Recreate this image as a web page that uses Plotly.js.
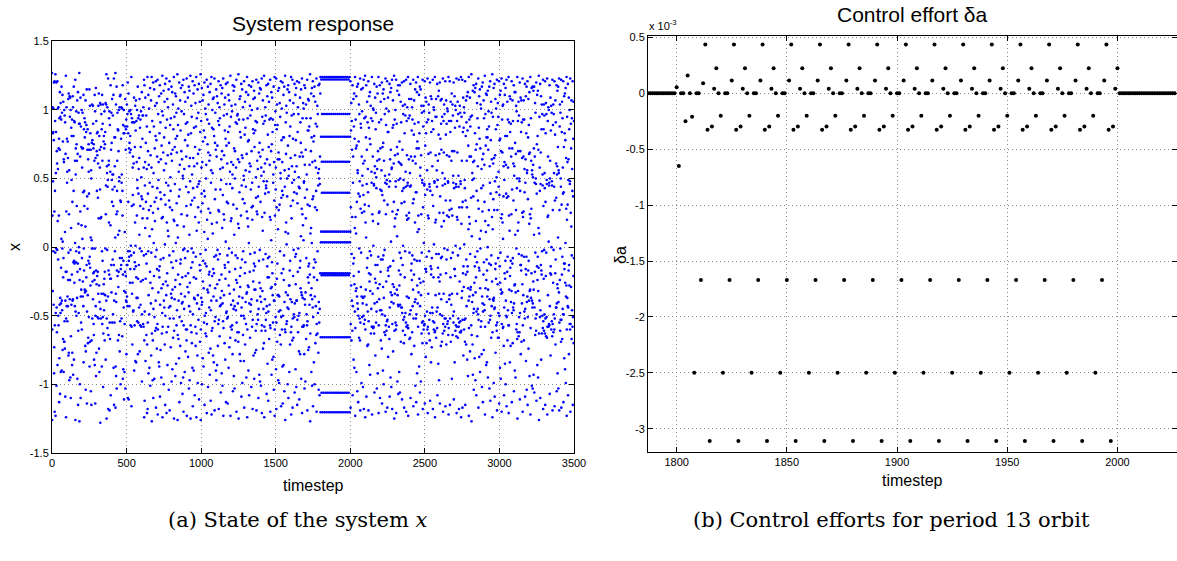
<!DOCTYPE html>
<html><head><meta charset="utf-8">
<script src="https://cdn.plot.ly/plotly-3.0.1.min.js"></script>
<style>html,body{margin:0;padding:0;background:#fff}#chart{width:1177px;height:561px}</style>
</head><body><div id="chart"></div>
<script>
// ---- Left panel: state x of the system (in hundredths) ----
// timesteps 0..1799 (uncontrolled, chaotic)
const stateBeforeCenti = [
127,-126,-60,23,102,-32,83,48,84,-3,101,-42,78,120,-92,-73,26,121,-120,-57,
41,92,-4,126,-123,-48,54,84,-1,120,-101,-44,70,-62,61,-2,121,-86,19,101,
57,-9,-50,102,-57,72,23,79,-113,-81,94,-42,71,113,-107,-37,95,-48,105,-91,
-41,-15,93,6,117,-90,-39,98,-46,-1,111,-75,4,77,-67,-22,106,-8,-91,64,
62,-69,100,-69,-54,96,-74,11,91,-109,-39,68,-18,125,-124,-52,26,102,-18,-43,
79,47,55,-54,-36,77,-43,65,-24,108,-79,-4,112,-77,24,56,-97,-24,110,-38,
95,-24,109,-95,-2,100,-110,-65,14,87,-42,49,81,-20,93,-86,-77,33,-39,110,
-38,102,-93,-11,81,41,117,-82,-10,92,-26,-12,91,-43,63,3,122,-126,-47,53,
72,-11,-3,99,-50,75,30,63,-37,107,-96,-18,68,-12,113,-115,-61,17,98,-48,
0,90,-4,127,-127,-24,90,-100,-16,66,26,109,-110,-36,88,-55,-31,73,16,100,
-60,-8,58,72,6,98,-36,-25,72,40,-43,111,-84,-1,86,-17,41,30,94,-31,
80,-33,91,-72,15,107,-104,-76,-32,84,-22,89,-13,115,-114,-47,37,71,28,86,
-35,-70,64,-66,-10,75,55,-51,39,71,-12,115,-87,-7,103,-69,-15,83,-28,71,
7,-105,56,50,-115,-68,5,76,-1,104,-52,78,-25,-1,103,-38,90,-19,72,-56,
75,-64,-82,-18,63,-24,111,-86,-1,99,-114,-50,65,-43,116,-94,-17,92,-77,-27,
70,41,83,-21,67,-51,84,-18,36,61,-34,103,-52,21,112,-74,-28,81,-91,-40,
71,58,42,105,-128,-45,21,104,-52,73,22,97,-34,86,-87,-3,111,-56,63,-10,
90,-51,104,-102,-63,-34,77,-27,81,-46,72,-23,99,-68,-18,75,-35,84,-1,105,
-82,24,45,104,-39,126,-125,-52,59,54,-2,102,-59,44,49,-36,123,-118,-64,-17,
60,63,18,94,-20,99,-119,-55,89,-67,-23,55,16,118,-108,-23,71,-13,98,-33,
76,49,33,108,-55,53,42,-9,96,-49,53,30,111,-88,-13,123,-115,-39,80,-55,
44,59,-3,80,7,127,-117,-87,-34,104,-94,-40,24,117,-103,-17,41,63,26,98,
-21,86,-68,9,85,-29,70,-18,100,-64,48,51,12,102,-76,-8,110,-54,34,111,
-100,-16,33,79,-13,102,-52,47,53,-8,101,-65,41,23,118,-96,-20,89,-89,-10,
83,-44,100,-111,-32,83,-91,-56,11,88,-18,108,-103,-33,71,-21,86,-39,93,-78,
-40,-13,104,-36,88,-13,97,-43,120,-110,-3,83,33,112,-111,-10,72,-7,99,-43,
76,-3,69,-26,81,-16,100,-57,71,1,97,-6,124,-116,-58,30,94,-34,91,-71,
-26,58,38,66,-47,91,-46,31,61,-4,109,-90,-16,91,-57,-11,73,18,103,-83,
1,85,-14,107,-84,-22,92,-37,62,23,100,-54,49,43,-37,117,-78,-23,94,-55,
39,57,-13,96,-44,65,9,108,-76,-1,87,-57,30,93,-42,73,-25,99,-58,51,
37,-3,113,-98,-49,35,79,21,96,-24,96,-56,28,102,-58,58,-6,122,-124,-68,
118,-112,-47,45,62,14,109,-83,-23,76,33,-5,96,-64,-12,57,88,-121,-71,21,
124,-118,-55,39,70,-3,111,-92,-35,60,27,101,-49,-88,8,47,84,-18,116,-101,
-26,67,30,-41,107,-79,-4,58,124,-127,-63,13,92,-30,44,-97,-68,25,120,-110,
-45,54,3,88,-21,115,-96,-51,33,72,19,103,-61,-7,81,-39,121,-117,-59,36,
78,-2,105,-74,-16,66,43,-56,122,-122,-60,28,97,-33,49,62,-84,-17,110,-87,
-22,83,-14,118,-109,-42,40,91,-75,-9,64,35,112,-95,-30,74,21,-63,99,-48,
125,-124,-58,22,96,-27,69,-8,114,-100,-39,56,80,-44,38,106,-71,2,119,-115,
-50,31,87,-25,61,47,-35,123,-121,-62,18,93,-19,108,-86,-28,67,12,102,-58,
45,8,115,-104,-44,34,76,-6,121,-119,-52,29,89,-43,51,41,-73,94,-34,68,
-11,117,-98,-37,63,27,113,-89,-31,71,-15,104,-66,-3,86,-52,20,124,-125,-61,
19,95,-38,73,46,-29,112,-94,-24,79,3,110,-85,-10,98,-57,32,69,-46,81,
16,126,-126,-64,7,89,-20,101,-67,-39,55,37,-81,120,-113,-51,42,60,-27,107,
-72,-12,85,-9,116,-99,-34,70,24,99,-54,-41,64,-22,118,-107,-40,52,50,-95,
-2,122,-120,-57,15,97,-45,57,-1,113,-91,-36,78,-8,106,-76,-21,90,-60,44,
66,30,-68,123,-123,-60,23,91,-29,74,-3,109,-80,-19,82,40,-33,117,-103,-43,
59,9,114,-97,-26,65,48,-47,125,-125,-57,31,83,-15,103,-62,-1,95,-70,53,
34,-88,-11,121,-116,-49,43,65,-4,112,-90,-22,87,-37,59,36,118,-108,-38,73,
22,-58,105,-72,-7,88,-23,124,-124,-63,12,94,-41,61,44,-79,115,-99,-35,68,
29,98,-53,46,18,119,-111,-45,48,71,-13,106,-69,-17,84,-5,126,-126,-60,26,
92,-37,58,39,-42,116,-100,-40,62,32,107,-81,-25,77,-10,111,-87,-30,85,-55,
41,11,120,-115,-50,37,80,-12,101,-63,-2,97,-48,50,60,-65,-14,122,-121,-56,
20,93,-31,75,6,117,-102,-33,69,28,104,-77,-20,90,-44,63,-18,113,-93,-28,
67,25,-74,119,-112,-46,47,56,-39,124,-122,-61,17,87,-21,100,-59,54,10,108,
-79,-16,86,-36,109,-84,-19,81,-7,123,-119,-54,35,76,-30,98,-51,42,71,-90,
-6,115,-97,-39,66,18,110,-86,-27,74,-2,105,-72,-9,92,-56,27,121,-118,-53,
26,89,-24,102,-65,-5,94,-43,57,42,-37,118,-106,-42,49,64,-20,112,-92,-32,
70,14,116,-101,-41,58,38,-54,123,-123,-59,24,96,-35,67,20,104,-70,-13,85,
-15,109,-82,-23,79,4,119,-113,-48,46,74,-47,33,97,-52,61,-6,120,-114,-51,
32,84,-11,111,-88,-28,76,-1,107,-73,-18,88,-34,55,46,-66,125,-123,-58,19,
95,-42,62,21,103,-60,-4,99,-57,43,53,-78,118,-105,-39,60,31,-45,114,-94,
-31,72,9,117,-103,-43,50,70,-16,104,-68,-6,91,-46,58,-24,122,-120,-55,28,
90,-26,96,-62,-8,97,-41,64,17,-69,126,-125,-62,14,93,-36,62,40,108,-78,
-21,84,-29,110,-83,-15,80,23,-50,119,-109,-44,45,67,-9,115,-99,-37,65,35,
102,-64,-3,93,-50,52,49,-83,121,-117,-52,32,82,-19,106,-71,-11,87,-40,56,
44,-56,113,-95,-34,68,26,-33,124,-124,-60,21,94,-28,77,15,111,-90,-29,78,
3,118,-108,-41,55,61,-18,103,-66,-5,96,-47,59,42,-42,117,-102,-38,70,29,
100,-58,47,20,121,-118,-53,30,86,-25,108,-79,-17,83,-12,114,-96,-31,73,-4,
109,-77,-14,85,-31,92,-61,51,36,-75,122,-119,-56,26,91,-39,63,24,101,-49,
57,37,-53,120,-110,-45,44,69,-10,112,-93,-26,76,-2,116,-98,-36,66,33,-30,
115,-101,-40,58,52,-61,123,-121,-57,22,95,-32,71,12,107,-74,-9,90,-45,48,
55,-70,125,-124,-58,25,92,-38,61,39,102,-61,-5,96,-53,45,43,-48,118,-107,
-43,48,64,-14,110,-85,-22,82,-8,119,-112,-47,40,73,-22,106,-67,-7,93,-42,
60,22,-57,122,-120,-59,20,94,-30,70,5,113,-93,-29,75,-11,109,-82,-19,84,
-35,93,-55,47,53,-80,117,-104,-39,62,34,-39,124,-123,-60,23,89,-27,99,-51,
42,58,-89,123,-118,-55,29,86,-23,104,-69,-12,89,-35,64,13,114,-97,-35,69,
27,-47,116,-99,-36,64,31,105,-64,-3,95,-46,54,50,-71,121,-116,-51,36,78,
-19,101,-60,41,62,-87,120,-114,-50,38,80,-16,111,-86,-24,80,-6,117,-105,-40,
56,44,-60,125,-126,-62,11,91,-33,68,18,103,-56,2,98,-54,50,37,-44,115,
-100,-35,74,10,118,-110,-45,52,57,-28,113,-91,-28,81,-17,107,-71,-10,88,-38,
65,30,-62,124,-122,-58,21,96,-40,59,47,-68,122,-117,-52,34,79,-21,105,-66,
-2,97,-49,49,40,-51,119,-106,-41,55,67,-7,111,-89,-27,78,-5,116,-102,-39,
59,39,-39,121,-115,-53,32,84,-18,102,-62,-1,97,-50,51,44,-76,120,-111,-48,
43,66,-15,109,-78,-10,91,-30,76,8,115,-96,-33,69,28,-35,123,-121,-58,24,
94,-37,66,16,105,-58,5,101,-57,47,48,-78,118,-103,-38,60,36,-42,116,-98,
-33,71,21,104,-67,-8,94,-49,53,42,-57,122,-119,-54,31,85,-22,108,-75,-14,
85,-26,107,-73,-12,88,-42,60,30,-20,126,-127,-63,10,94,-35,70,14,112,-91,
-30,80,3,116,-101,-38,62,35,-44,121,-116,-51,37,77,-15,110,-84,-22,81,-9,
117,-100,-36,63,29,106,-70,-11,90,-43,58,41,-64,123,-120,-56,27,88,-24,103,
-63,-3,97,-48,54,45,-77,118,-104,-40,57,50,-55,119,-108,-45,46,66,-19,112
];
// timesteps 1800..2000 (controlled onto the period-13 orbit)
const stateOrbit = [
1.240,-1.204,-0.657,0.035,0.805,0.113,1.222,-1.061,-0.205,0.623,0.397,0.971,-0.191,
1.240,-1.204,-0.657,0.035,0.805,0.113,1.222,-1.061,-0.205,0.623,0.397,0.971,-0.191,
1.240,-1.204,-0.657,0.035,0.805,0.113,1.222,-1.061,-0.205,0.623,0.397,0.971,-0.191,
1.240,-1.204,-0.657,0.035,0.805,0.113,1.222,-1.061,-0.205,0.623,0.397,0.971,-0.191,
1.240,-1.204,-0.657,0.035,0.805,0.113,1.222,-1.061,-0.205,0.623,0.397,0.971,-0.191,
1.240,-1.204,-0.657,0.035,0.805,0.113,1.222,-1.061,-0.205,0.623,0.397,0.971,-0.191,
1.240,-1.204,-0.657,0.035,0.805,0.113,1.222,-1.061,-0.205,0.623,0.397,0.971,-0.191,
1.240,-1.204,-0.657,0.035,0.805,0.113,1.222,-1.061,-0.205,0.623,0.397,0.971,-0.191,
1.240,-1.204,-0.657,0.035,0.805,0.113,1.222,-1.061,-0.205,0.623,0.397,0.971,-0.191,
1.240,-1.204,-0.657,0.035,0.805,0.113,1.222,-1.061,-0.205,0.623,0.397,0.971,-0.191,
1.240,-1.204,-0.657,0.035,0.805,0.113,1.222,-1.061,-0.205,0.623,0.397,0.971,-0.191,
1.240,-1.204,-0.657,0.035,0.805,0.113,1.222,-1.061,-0.205,0.623,0.397,0.971,-0.191,
1.240,-1.204,-0.657,0.035,0.805,0.113,1.222,-1.061,-0.205,0.623,0.397,0.971,-0.191,
1.240,-1.204,-0.657,0.035,0.805,0.113,1.222,-1.061,-0.205,0.623,0.397,0.971,-0.191,
1.240,-1.204,-0.657,0.035,0.805,0.113,1.222,-1.061,-0.205,0.623,0.397,0.971,-0.191,
1.240,-1.204,-0.657,0.035,0.805,0.113
];
// timesteps 2001..3500 (control released, chaotic again)
const stateAfterCenti = [
121,-117,-56,29,85,-28,105,-68,-5,92,-39,71,22,-61,118,-108,-43,47,66,-12,
108,-82,-21,88,-8,112,-88,-27,79,14,-47,124,-123,-59,22,93,-32,72,10,110,
-91,-30,74,33,-36,117,-105,-41,56,54,-45,119,-113,-50,39,77,-18,104,-66,-1,
97,-52,48,37,-68,123,-119,-55,28,90,-29,87,-4,115,-99,-36,66,25,99,-51,
52,45,-41,116,-102,-37,61,38,-50,122,-118,-56,26,94,-36,63,31,-53,125,-124,
-60,18,95,-31,80,7,118,-109,-42,46,71,-15,106,-72,-8,91,-47,57,40,-71,
121,-119,-54,30,87,-19,110,-86,-25,79,-3,113,-93,-32,75,-20,103,-63,-6,94,
-45,55,47,-58,124,-122,-58,24,92,-34,66,19,101,-59,1,100,-58,46,45,-63,
119,-106,-41,54,59,-23,109,-79,-13,86,-26,98,-55,51,43,-47,117,-103,-40,57,
63,-13,112,-92,-30,70,17,-7,124,-121,-57,25,91,-38,64,26,-27,118,-110,-46,
42,72,-18,106,-68,-9,93,-46,56,41,-74,120,-114,-49,38,73,-9,112,-90,-29,
76,-6,115,-100,-37,63,34,108,-62,-2,97,-50,52,47,-64,123,-120,-57,24,89,
-25,101,-61,46,49,-54,121,-117,-53,31,84,-17,109,-80,-15,84,-21,99,-58,44,
53,-67,119,-109,-44,48,64,-14,113,-95,-33,71,4,116,-102,-40,57,58,-35,122,
-118,-56,26,87,-27,107,-76,-10,89,-41,61,33,-29,125,-125,-61,15,93,-34,67,
21,100,-55,48,44,-60,122,-121,-57,24,90,-31,73,8,114,-98,-35,68,27,-42,
118,-107,-43,49,62,-17,111,-91,-28,77,-4,118,-106,-42,50,61,-20,106,-69,-8,
91,-44,60,32,-44,120,-111,-48,41,71,-13,103,-61,1,97,-53,49,43,-70,121,
-117,-51,33,83,-22,104,-64,-3,96,-48,55,44,-55,122,-120,-58,23,92,-36,67,
20,102,-57,45,47,-59,124,-123,-59,21,94,-37,64,25,108,-67,-4,96,-49,54,
44,-66,119,-110,-46,45,66,-17,108,-78,-12,85,-24,102,-62,-6,93,-43,63,32,
-31,122,-116,-52,35,82,-20,107,-72,-9,90,-40,66,18,115,-101,-38,61,40,-52,
120,-113,-49,40,72,-10,113,-92,-28,77,11,-41,124,-122,-58,23,91,-33,72,13,
111,-87,-23,83,-10,117,-106,-43,52,58,-26,115,-98,-35,67,24,103,-63,-4,98,
-55,49,47,-70,122,-118,-54,29,88,-25,103,-60,3,99,-57,45,46,-56,121,-114,
-50,38,74,-16,109,-80,-16,83,-18,106,-70,-7,91,-47,56,42,-60,123,-121,-58,
23,93,-34,68,21,104,-63,-3,98,-53,46,44,-68,120,-112,-48,41,69,-14,110,
-84,-20,84,-16,108,-73,-8,92,-44,59,38,-48,122,-118,-54,30,86,-22,102,-60,
2,100,-55,48,47,-62,124,-124,-61,18,95,-35,67,20,108,-66,-5,95,-47,56,
44,-59,119,-108,-44,49,63,-15,110,-85,-22,82,-5,114,-97,-34,68,25,-25,120,
-114,-49,37,79,-20,107,-72,-8,90,-38,71,15,108,-69,-7,95,-50,54,45,-63,
123,-120,-56,25,92,-34,69,19,104,-61,-1,97,-52,50,46,-58,121,-116,-52,34,
82,-19,107,-71,-9,90,-40,67,23,101,-56,-2,99,-54,48,47,-64,124,-122,-59,
22,92,-38,66,27,-35,121,-115,-52,34,84,-22,106,-69,-8,92,-42,63,28,112,
-96,-34,70,23,104,-64,-4,96,-50,52,47,-55,120,-111,-47,43,70,-16,110,-84,
-16,87,-21,103,-61,1,100,-57,46,44,-65,123,-121,-58,22,92,-34,69,20,106,
-66,-6,97,-52,52,44,-58,122,-118,-55,29,88,-25,103,-62,-1,98,-54,48,46,
-62,124,-124,-61,17,95,-37,63,29,-32,122,-117,-53,33,84,-19,109,-79,-14,87,
-29,102,-60,2,98,-53,49,43,-69,121,-115,-52,34,81,-20,107,-71,-9,91,-43,
63,29,110,-82,-18,85,-14,113,-94,-30,74,13,-39,124,-123,-59,22,93,-36,66,
17,109,-76,-5,88,-31,95,-29,66,36,-57,126,-127,-64,8,96,-40,54,49,-71,
114,-93,-35,62,37,-48,118,-104,-45,50,63,-26,113,-81,-14,83,-7,116,-97,-33,
71,19,-22,119,-108,-47,41,75,-11,105,-65,-3,94,-45,59,34,-49,123,-117,-53,
28,87,-15,110,-80,-17,79,6,115,-91,-30,72,-1,104,-58,12,101,-54,43,57,
-78,117,-102,-36,64,26,-41,120,-113,-47,45,68,-20,107,-75,-11,94,-42,60,33,
-46,125,-122,-58,19,97,-30,74,11,112,-86,-24,80,-9,111,-84,-17,86,-36,80,
0,114,-95,-31,71,16,99,-55,27,88,-12,117,-103,-38,59,47,-53,121,-112,-50,
39,78,-13,106,-66,-6,98,-43,64,22,-25,126,-124,-62,13,95,-38,61,35,-39,
116,-99,-37,65,27,-45,119,-109,-44,48,67,-16,108,-77,-12,86,-23,101,-57,40,
51,-61,122,-119,-55,27,89,-27,105,-66,-8,95,-48,55,44,-66,121,-114,-50,38,
78,-14,111,-88,-26,79,-4,114,-96,-31,70,21,-34,123,-120,-56,24,93,-33,69,
18,103,-59,6,104,-58,37,59,-72,119,-108,-44,49,62,-19,111,-85,-23,81,-10,
116,-100,-39,60,39,-50,122,-116,-51,36,81,-18,106,-68,-7,93,-46,58,37,-57,
124,-121,-57,23,91,-31,72,12,110,-84,-21,84,-15,108,-72,-10,90,-40,66,24,
-32,121,-113,-48,42,72,-12,107,-70,-8,92,-44,61,34,-46,118,-105,-41,52,59,
-28,113,-90,-27,76,9,113,-95,-33,68,27,103,-60,-1,99,-56,43,50,-67,124,
-125,-62,12,92,-32,70,18,106,-65,-5,96,-51,50,48,-62,120,-111,-48,41,70,
-13,109,-78,-13,84,-17,107,-69,-6,91,-41,65,25,-27,123,-120,-57,22,93,-35,
66,26,107,-68,-7,93,-47,57,40,-52,119,-109,-45,47,64,-16,110,-83,-20,83,
-7,117,-104,-40,54,56,-36,121,-115,-51,35,80,-17,108,-74,-10,89,-39,68,17,
113,-94,-32,69,24,-31,124,-122,-59,21,94,-37,63,28,-19,116,-101,-39,56,53,
-44,117,-103,-41,51,60,-25,114,-93,-31,72,9,117,-106,-44,47,66,-18,105,-64,
-4,98,-52,50,46,-61,120,-112,-49,39,75,-14,111,-86,-24,81,-7,114,-95,-32,
71,14,-15,125,-126,-63,10,95,-39,58,41,-51,119,-110,-46,46,69,-13,110,-82,
-17,86,-20,104,-63,-3,97,-50,53,45,-59,122,-118,-54,30,86,-23,104,-61,-2,
96,-49,54,43,-63,121,-115,-52,33,83,-21,105,-65,-4,97,-51,49,46,-66,123,
-122,-58,22,92,-35,66,23,102,-58,4,100,-56,45,47,-57,118,-107,-43,50,63,
-19,109,-79,-14,85,-20,103,-60,0,98,-54,48,45,-65,122,-119,-56,27,89,-26,
104,-62,-2,97,-49,54,44,-60,121,-116,-52,34,82,-19,107,-71,-9,91,-44,61,
36,-44,118,-105,-41,53,59,-27,114,-92,-30,73,7,117,-103,-40,56,54,-33,123,
-119,-55,27,88,-24,104,-61,-1,98,-53,50,44,-69,122,-117,-53,31,84,-20,106,
-67,-7,94,-45,58,39,-49,121,-113,-49,40,73,-12,110,-81,-16,83,-12,112,-89,
-26,78,3,116,-99,-36,65,28,-28,124,-123,-60,20,95,-37,62,31,-43,119,-108,
-44,49,64,-17,109,-78,-13,86,-28,100,-56,46,48,-60,123,-120,-56,25,90,-29,
72,15,107,-67,-6,94,-46,57,41,-58,121,-115,-51,37,79,-21,106,-70,-8,92
];
const stateStartBefore = 0, stateStartOrbit = 1800, stateStartAfter = 2001;

// ---- Right panel: control effort delta-a, in units of 1e-3, timesteps 1787..2026 ----
const effortStart = 1787;
const effortE3 = [
0,0,0,0,0,0,0,0,0,0,0,0,0,
0.055,-0.65,0,0,-0.25,0.16,0,-0.21,
-2.5,0,0,-1.67,0.09,0.436,-0.325,-3.11,-0.297,0.04,0.224,0,-0.2,
-2.5,0,0,-1.67,0.115,0.436,-0.325,-3.11,-0.297,0.04,0.224,0,-0.2,
-2.5,0,0,-1.67,0.115,0.436,-0.325,-3.11,-0.297,0.04,0.224,0,-0.2,
-2.5,0,0,-1.67,0.115,0.436,-0.325,-3.11,-0.297,0.04,0.224,0,-0.2,
-2.5,0,0,-1.67,0.115,0.436,-0.325,-3.11,-0.297,0.04,0.224,0,-0.2,
-2.5,0,0,-1.67,0.115,0.436,-0.325,-3.11,-0.297,0.04,0.224,0,-0.2,
-2.5,0,0,-1.67,0.115,0.436,-0.325,-3.11,-0.297,0.04,0.224,0,-0.2,
-2.5,0,0,-1.67,0.115,0.436,-0.325,-3.11,-0.297,0.04,0.224,0,-0.2,
-2.5,0,0,-1.67,0.115,0.436,-0.325,-3.11,-0.297,0.04,0.224,0,-0.2,
-2.5,0,0,-1.67,0.115,0.436,-0.325,-3.11,-0.297,0.04,0.224,0,-0.2,
-2.5,0,0,-1.67,0.115,0.436,-0.325,-3.11,-0.297,0.04,0.224,0,-0.2,
-2.5,0,0,-1.67,0.115,0.436,-0.325,-3.11,-0.297,0.04,0.224,0,-0.2,
-2.5,0,0,-1.67,0.115,0.436,-0.325,-3.11,-0.297,0.04,0.224,0,-0.2,
-2.5,0,0,-1.67,0.115,0.436,-0.325,-3.11,-0.297,0.04,0.224,0,-0.2,
-2.5,0,0,-1.67,0.115,0.436,-0.325,-3.11,-0.297,0.04,0.224,
0,0,0,0,0,0,0,0,0,0,0,0,0,0,0,0,0,0,0,0,0,0,0,0,0,0
];

// ---- Ticks and texts ----
const leftXTicks = [0,500,1000,1500,2000,2500,3000,3500];
const leftYTicks = [-1.5,-1,-0.5,0,0.5,1,1.5];
const leftYTickText = ['-1.5','-1','-0.5','0','0.5','1','1.5'];
const rightXTicks = [1800,1850,1900,1950,2000];
const rightYTicks = [0.5,0,-0.5,-1,-1.5,-2,-2.5,-3];
const rightYTickText = ['0.5','0','-0.5','-1','-1.5','-2','-2.5','-3'];
const titles = {left:'System response', right:'Control effort \u03B4a'};
const captions = {left:'(a) State of the system <i>x</i>', right:'(b) Control efforts for period 13 orbit'};

// ---- Build series ----
const stateT = [], stateX = [];
stateBeforeCenti.forEach((v,i)=>{stateT.push(stateStartBefore+i); stateX.push(v/100);});
stateOrbit.forEach((v,i)=>{stateT.push(stateStartOrbit+i); stateX.push(v);});
stateAfterCenti.forEach((v,i)=>{stateT.push(stateStartAfter+i); stateX.push(v/100);});
const effortT = effortE3.map((v,i)=>effortStart+i);

const W = 1177, H = 561;
const px = x => x/W, py = y => 1 - y/H;
const SANS = '"Liberation Sans", Arial, Helvetica, sans-serif';
const SERIF = '"DejaVu Serif", "Liberation Serif", serif';

function axisBase(extra){
  return Object.assign({
    showline:true, linecolor:'#000', linewidth:1, mirror:'ticks',
    ticks:'inside', ticklen:5, tickwidth:1, tickcolor:'#000',
    showgrid:true, gridcolor:'#8a8a8a', gridwidth:1, griddash:'1px,3px',
    zeroline:false, tickfont:{family:SANS, size:11, color:'#000'},
    automargin:false, fixedrange:true
  }, extra);
}

const traces = [
  {type:'scatter', mode:'markers', x:stateT, y:stateX, xaxis:'x', yaxis:'y',
   marker:{color:'#0000ff', size:2.6}, hoverinfo:'skip'},
  {type:'scatter', mode:'markers', x:effortT, y:effortE3, xaxis:'x2', yaxis:'y2',
   marker:{color:'#000', size:4}, hoverinfo:'skip'}
];

function ann(text, x, y, size, extra){
  return Object.assign({text, x:px(x), y:py(y), xref:'paper', yref:'paper', showarrow:false,
    xanchor:'center', yanchor:'middle', font:{family:SANS, size, color:'#000'}}, extra||{});
}

const layout = {
  width:W, height:H, margin:{l:0,r:0,t:0,b:0}, showlegend:false,
  paper_bgcolor:'#fff', plot_bgcolor:'#fff', font:{family:SANS, color:'#000'},
  xaxis: axisBase({domain:[px(52), px(574)], range:[0,3500], tickvals:leftXTicks, anchor:'y'}),
  yaxis: axisBase({domain:[py(452.9), py(41.4)], range:[-1.5,1.5], tickvals:leftYTicks, ticktext:leftYTickText, anchor:'x'}),
  xaxis2: axisBase({domain:[px(648), px(1176.5)], range:[1787,2026.8], tickvals:rightXTicks, anchor:'y2'}),
  yaxis2: axisBase({domain:[py(452), py(35.7)], range:[-3.208,0.515], tickvals:rightYTicks, ticktext:rightYTickText, anchor:'x2'}),
  annotations: [
    ann(titles.left, 313, 23, 21),
    ann(titles.right, 912.3, 14.5, 21),
    ann('timestep', 313, 485, 16),
    ann('timestep', 912.3, 480, 16),
    ann('x', 14, 247, 16, {textangle:-90}),
    ann('\u03B4a', 620, 255, 16, {textangle:-90}),
    ann('x 10<sup>-3</sup>', 647, 25, 11, {xanchor:'left'}),
    ann(captions.left, 297.5, 520, 21, {font:{family:SERIF, size:21, color:'#000'}}),
    ann(captions.right, 891, 520, 21, {font:{family:SERIF, size:21, color:'#000'}})
  ]
};

Plotly.newPlot('chart', traces, layout, {staticPlot:true, displayModeBar:false});
</script>
</body></html>
